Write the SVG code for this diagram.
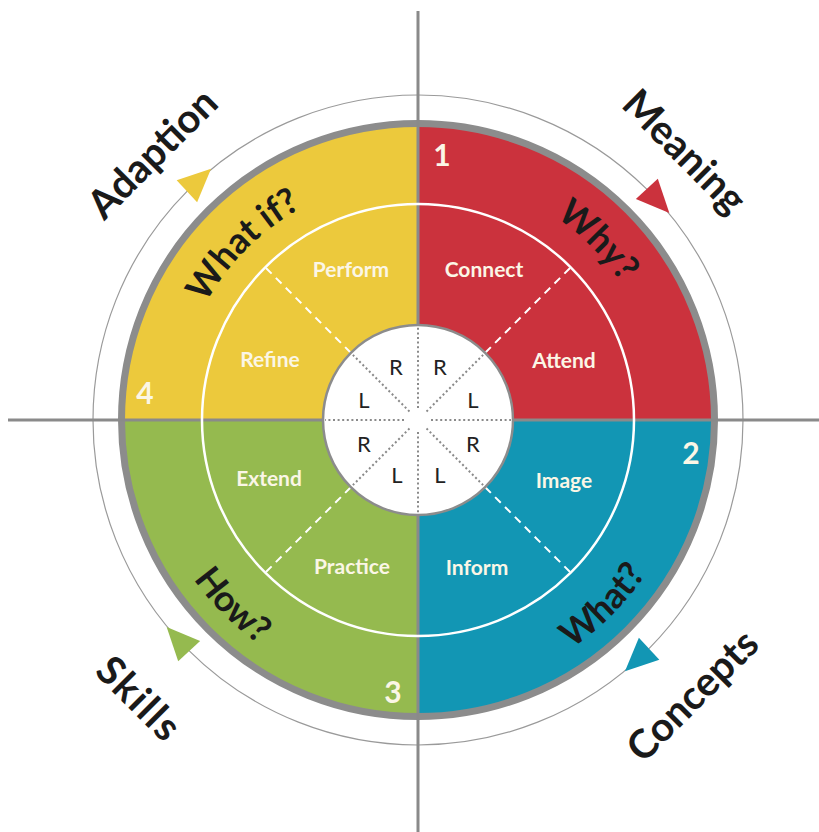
<svg xmlns="http://www.w3.org/2000/svg" xmlns:xlink="http://www.w3.org/1999/xlink" width="819" height="832" viewBox="0 0 819 832">
<style>
  text { font-family: Lato, "Open Sans", "Liberation Sans", sans-serif; }
  .axis { stroke: #8a8a8a; stroke-width: 3; fill: none; }
  .ring { fill: none; stroke: #8c8c8c; stroke-width: 7; }
  .thin { fill: none; stroke: #9a9a9a; stroke-width: 1.2; }
  .inner { fill: none; stroke: #ffffff; stroke-width: 2.5; }
  .dash { stroke: #ffffff; stroke-width: 2; stroke-dasharray: 8 6; fill: none; }
  .dot { stroke: #8a8a8a; stroke-width: 2; stroke-dasharray: 2 2.6; fill: none; }
  .rl { font-size: 22px; fill: #222; text-anchor: middle; }
  .lab { font-size: 21px; font-weight: 700; fill: #fbf6e6; text-anchor: middle; }
  .num { font-size: 30px; font-weight: 700; fill: #fbf6e6; text-anchor: middle; }
  .q { font-size: 36px; font-weight: 700; fill: #1a1a1a; text-anchor: middle; }
  .out { font-size: 40px; font-weight: 700; fill: #1a1a1a; text-anchor: middle; }
</style>
<defs>
  <path id="tri" d="M20,0 L-13,-15 L-13,15 Z"/>
  <path id="arcWhatIf" d="M176.9,398.9 A242,242 0 0 1 396.9,178.9"/>
  <path id="arcWhy" d="M439.1,175.9 A245,245 0 0 1 662.1,398.9"/>
  <path id="arcWhat" d="M442,694 A275,275 0 0 0 692,444"/>
  <path id="arcHow" d="M144,444 A275,275 0 0 0 394,694"/>
</defs>

<rect width="819" height="832" fill="#ffffff"/>

<!-- outer thin circle -->
<circle class="thin" cx="418" cy="420" r="325"/>

<!-- quadrants -->
<g id="q-adaption">
  <path d="M418,420 L122,420 A296,296 0 0 1 418,124 Z" fill="#ecc93c"/>
</g>
<g id="q-meaning">
  <path d="M418,420 L418,124 A296,296 0 0 1 714,420 Z" fill="#cb323d"/>
</g>
<g id="q-concepts">
  <path d="M418,420 L714,420 A296,296 0 0 1 418,716 Z" fill="#1296b4"/>
</g>
<g id="q-skills">
  <path d="M418,420 L418,716 A296,296 0 0 1 122,420 Z" fill="#95ba4f"/>
</g>

<circle class="ring" cx="418" cy="420" r="296.5"/>

<!-- axes -->
<g id="axes">
  <line class="axis" x1="418" y1="11" x2="418" y2="832"/>
  <line class="axis" x1="8" y1="420" x2="819" y2="420"/>
</g>

<!-- inner white ring and dashed dividers -->
<circle class="inner" cx="418" cy="420" r="216"/>
<g id="dividers">
  <line class="dash" x1="350.8" y1="352.8" x2="265.3" y2="267.3"/>
  <line class="dash" x1="485.2" y1="352.8" x2="570.7" y2="267.3"/>
  <line class="dash" x1="485.2" y1="487.2" x2="570.7" y2="572.7"/>
  <line class="dash" x1="350.8" y1="487.2" x2="265.3" y2="572.7"/>
</g>

<!-- center circle -->
<g id="center">
  <circle cx="418" cy="420" r="95" fill="#ffffff" stroke="#8c8c8c" stroke-width="2.5"/>
  <line class="dot" x1="418" y1="408" x2="418" y2="327"/>
  <line class="dot" x1="418" y1="432" x2="418" y2="513"/>
  <line class="dot" x1="404" y1="420" x2="325" y2="420"/>
  <line class="dot" x1="431" y1="420" x2="511" y2="420"/>
  <line class="dot" x1="409.5" y1="411.5" x2="352.9" y2="354.9"/>
  <line class="dot" x1="426.5" y1="411.5" x2="483.1" y2="354.9"/>
  <line class="dot" x1="426.5" y1="428.5" x2="483.1" y2="485.1"/>
  <line class="dot" x1="409.5" y1="428.5" x2="352.9" y2="485.1"/>
  <text class="rl" x="396" y="375">R</text>
  <text class="rl" x="440" y="375">R</text>
  <text class="rl" x="364" y="408">L</text>
  <text class="rl" x="473" y="408">L</text>
  <text class="rl" x="364" y="452">R</text>
  <text class="rl" x="473" y="452">R</text>
  <text class="rl" x="397" y="483">L</text>
  <text class="rl" x="440" y="483">L</text>
</g>

<!-- white sub-labels -->
<g id="labels">
  <text class="lab" x="351" y="277">Perform</text>
  <text class="lab" x="270" y="367">Refine</text>
  <text class="lab" x="484" y="277">Connect</text>
  <text class="lab" x="564" y="368">Attend</text>
  <text class="lab" x="269" y="486">Extend</text>
  <text class="lab" x="352" y="574">Practice</text>
  <text class="lab" x="564" y="488">Image</text>
  <text class="lab" x="477" y="575">Inform</text>
</g>

<!-- numbers -->
<g id="numbers">
  <text class="num" x="442" y="166">1</text>
  <text class="num" x="691" y="464">2</text>
  <text class="num" x="393" y="703">3</text>
  <text class="num" x="145" y="404">4</text>
</g>

<!-- question labels -->
<g id="questions">
  <text class="q"><textPath xlink:href="#arcWhatIf" href="#arcWhatIf" startOffset="50%">What if?</textPath></text>
  <text class="q"><textPath xlink:href="#arcWhy" href="#arcWhy" startOffset="50%">Why?</textPath></text>
  <text class="q"><textPath xlink:href="#arcWhat" href="#arcWhat" startOffset="50%">What?</textPath></text>
  <text class="q"><textPath xlink:href="#arcHow" href="#arcHow" startOffset="50%">How?</textPath></text>
</g>

<!-- outer labels -->
<g id="outer-labels">
  <text class="out" transform="translate(153,154) rotate(-45)" x="0" y="13">Adaption</text>
  <text class="out" transform="translate(684,152) rotate(45)" x="0" y="13">Meaning</text>
  <text class="out" transform="translate(693,696) rotate(-45)" x="0" y="13">Concepts</text>
  <text class="out" transform="translate(138,699) rotate(45)" x="0" y="13" textLength="100" lengthAdjust="spacing">Skills</text>
</g>

<!-- cycle arrows -->
<g id="connectors">
  <use href="#tri" xlink:href="#tri" fill="#ecc93c" transform="translate(196.4,182.3) rotate(-43)"/>
  <use href="#tri" xlink:href="#tri" fill="#cb323d" transform="translate(655.7,198.4) rotate(47)"/>
  <use href="#tri" xlink:href="#tri" fill="#1296b4" transform="translate(639.6,657.7) rotate(137)"/>
  <use href="#tri" xlink:href="#tri" fill="#95ba4f" transform="translate(180.3,641.6) rotate(227)"/>
</g>
</svg>
